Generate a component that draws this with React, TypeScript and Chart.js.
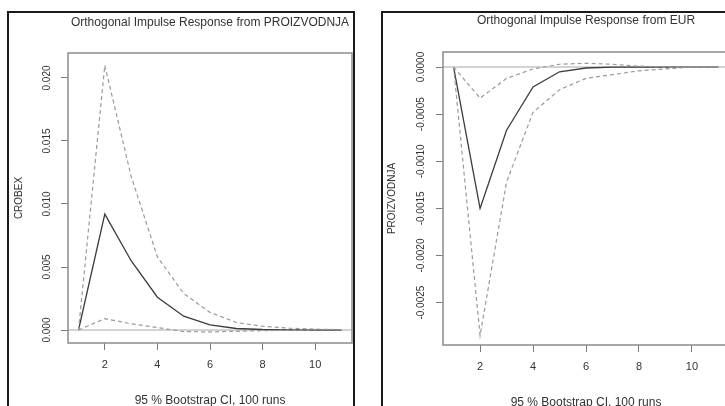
import React, { useEffect, useRef } from "react";
import { Chart, registerables } from "chart.js";

Chart.register(...registerables);

// ---------- data ----------
const periods = [1, 2, 3, 4, 5, 6, 7, 8, 9, 10, 11];

const leftIrf = [0, 0.0092, 0.0055, 0.0026, 0.0011, 0.0004, 0.00012, 0.00004, 0.00001, 0.000003, 0.000001];
const leftUpper = [0, 0.021, 0.0122, 0.0058, 0.0029, 0.0014, 0.0006, 0.0003, 0.00015, 0.00007, 0.00003];
const leftLower = [0, 0.0009, 0.0005, 0.0002, -0.00012, -0.00015, -0.0001, -0.00005, -0.00002, 0, 0];

const rightIrf = [0, -0.0015, -0.00067, -0.00021, -0.00005, -0.00001, 0, 0, 0, 0, 0];
const rightUpper = [0, -0.00033, -0.00012, -0.00002, 0.00003, 0.00004, 0.00003, 0.00001, 0, 0, 0];
const rightLower = [0, -0.00285, -0.00122, -0.00048, -0.00024, -0.00012, -0.00008, -0.00004, -0.00002, 0, 0];

const xTicks = [2, 4, 6, 8, 10];
const xTickLabels = ["2", "4", "6", "8", "10"];

const leftYTicks = [0, 0.005, 0.01, 0.015, 0.02];
const leftYTickLabels = ["0.000", "0.005", "0.010", "0.015", "0.020"];

const rightYTicks = [0, -0.0005, -0.001, -0.0015, -0.002, -0.0025];
const rightYTickLabels = ["0.0000", "-0.0005", "-0.0010", "-0.0015", "-0.0020", "-0.0025"];

const leftTitle = "Orthogonal Impulse Response from PROIZVODNJA";
const rightTitle = "Orthogonal Impulse Response from EUR";
const leftYLabel = "CROBEX";
const rightYLabel = "PROIZVODNJA";
const xLabel = "95 % Bootstrap CI, 100 runs";

const FONT = "'Liberation Sans', Arial, Helvetica, sans-serif";
const TEXT = "#333333";

type PanelCfg = {
  title: string;
  yLabel: string;
  irf: number[];
  upper: number[];
  lower: number[];
  yMin: number;
  yMax: number;
  yTicks: number[];
  yTickLabels: string[];
  width: number;
  height: number;
  padRight: number;
  yWidth: number;
  xHeight: number;
  titlePadTop: number;
  titlePadBottom: number;
  xTitlePadBottom: number;
  yTitlePadTop: number;
  yTickPad: number;
};

const boxPlugin = {
  id: "rbox",
  beforeDatasetsDraw(chart: any) {
    const { ctx, chartArea } = chart;
    const y0 = chart.scales.y.getPixelForValue(0);
    ctx.save();
    ctx.strokeStyle = "#c4c4c4";
    ctx.lineWidth = 1.5;
    ctx.beginPath();
    ctx.moveTo(chartArea.left, y0);
    ctx.lineTo(chartArea.right, y0);
    ctx.stroke();
    ctx.restore();
  },
  afterDatasetsDraw(chart: any) {
    const { ctx, chartArea } = chart;
    ctx.save();
    ctx.strokeStyle = "#8c8c8c";
    ctx.lineWidth = 1.5;
    ctx.strokeRect(chartArea.left, chartArea.top, chartArea.right - chartArea.left, chartArea.bottom - chartArea.top);
    ctx.restore();
  },
};

function labelFor(values: number[], labels: string[], v: number) {
  const i = values.findIndex((t) => Math.abs(t - v) < 1e-12);
  return i >= 0 ? labels[i] : "";
}

function Panel({ cfg, left }: { cfg: PanelCfg; left: number }) {
  const ref = useRef<HTMLCanvasElement | null>(null);
  useEffect(() => {
    if (!ref.current) return;
    const pts = (arr: number[]) => periods.map((p, i) => ({ x: p, y: arr[i] }));
    const dashed = { borderColor: "#9a9a9a", borderWidth: 1.2, borderDash: [4, 3], pointRadius: 0, tension: 0, fill: false };
    const chart = new Chart(ref.current, {
      type: "line",
      data: {
        datasets: [
          { data: pts(cfg.upper), ...dashed },
          { data: pts(cfg.lower), ...dashed },
          { data: pts(cfg.irf), borderColor: "#3c3c3c", borderWidth: 1.3, pointRadius: 0, tension: 0, fill: false },
        ],
      } as any,
      options: {
        animation: false,
        responsive: false,
        devicePixelRatio: 1,
        events: [],
        layout: { padding: { left: 0, top: 0, right: cfg.padRight, bottom: 0 } },
        plugins: {
          legend: { display: false },
          tooltip: { enabled: false },
          title: {
            display: true,
            text: cfg.title,
            fullSize: false,
            color: TEXT,
            font: { family: FONT, size: 12, weight: "normal" },
            padding: { top: cfg.titlePadTop, bottom: cfg.titlePadBottom },
          },
        },
        scales: {
          x: {
            type: "linear",
            min: 0.6,
            max: 11.4,
            afterBuildTicks: (s: any) => {
              s.ticks = xTicks.map((v) => ({ value: v }));
            },
            afterFit: (s: any) => {
              s.height = cfg.xHeight;
            },
            border: { display: false },
            grid: { display: true, drawOnChartArea: false, drawTicks: true, tickLength: 7, color: "#7a7a7a", lineWidth: 1 },
            ticks: {
              color: TEXT,
              font: { family: FONT, size: 11 },
              padding: 8,
              maxRotation: 0,
              minRotation: 0,
              callback: (v: any) => labelFor(xTicks, xTickLabels, Number(v)),
            },
            title: {
              display: true,
              text: xLabel,
              color: TEXT,
              font: { family: FONT, size: 12 },
              padding: { top: 0, bottom: cfg.xTitlePadBottom },
            },
          },
          y: {
            type: "linear",
            min: cfg.yMin,
            max: cfg.yMax,
            afterBuildTicks: (s: any) => {
              s.ticks = cfg.yTicks.map((v) => ({ value: v }));
            },
            afterFit: (s: any) => {
              s.width = cfg.yWidth;
            },
            border: { display: false },
            grid: { display: true, drawOnChartArea: false, drawTicks: true, tickLength: 7, color: "#7a7a7a", lineWidth: 1 },
            ticks: {
              color: TEXT,
              font: { family: FONT, size: 10 },
              padding: cfg.yTickPad,
              minRotation: 90,
              maxRotation: 90,
              crossAlign: "center",
              callback: (v: any) => labelFor(cfg.yTicks, cfg.yTickLabels, Number(v)),
            },
            title: {
              display: true,
              text: cfg.yLabel,
              color: TEXT,
              font: { family: FONT, size: 10 },
              padding: { top: cfg.yTitlePadTop, bottom: 0 },
            },
          },
        },
      } as any,
      plugins: [boxPlugin],
    });
    return () => chart.destroy();
  }, [cfg]);
  return (
    <canvas
      ref={ref}
      width={cfg.width}
      height={cfg.height}
      style={{ position: "absolute", left, top: 0, width: cfg.width, height: cfg.height }}
    />
  );
}

const leftCfg: PanelCfg = {
  title: leftTitle,
  yLabel: leftYLabel,
  irf: leftIrf,
  upper: leftUpper,
  lower: leftLower,
  yMin: -0.00103,
  yMax: 0.02198,
  yTicks: leftYTicks,
  yTickLabels: leftYTickLabels,
  width: 362,
  height: 420,
  padRight: 10,
  yWidth: 68,
  xHeight: 77,
  titlePadTop: 15.3,
  titlePadBottom: 23.3,
  xTitlePadBottom: 11.8,
  yTitlePadTop: 13,
  yTickPad: 1.5,
};

const rightCfg: PanelCfg = {
  title: rightTitle,
  yLabel: rightYLabel,
  irf: rightIrf,
  upper: rightUpper,
  lower: rightLower,
  yMin: -0.00295,
  yMax: 0.00016,
  yTicks: rightYTicks,
  yTickLabels: rightYTickLabels,
  width: 400,
  height: 420,
  padRight: 33,
  yWidth: 81,
  xHeight: 75,
  titlePadTop: 13.8,
  titlePadBottom: 23.8,
  xTitlePadBottom: 9.8,
  yTitlePadTop: 24,
  yTickPad: -2,
};

export default function App() {
  return (
    <div
      style={{
        position: "fixed",
        left: 0,
        top: 0,
        width: 725,
        height: 406,
        overflow: "hidden",
        background: "#ffffff",
      }}
    >
      <Panel cfg={leftCfg} left={0} />
      <Panel cfg={rightCfg} left={362} />
      <div
        style={{
          position: "absolute",
          left: 7,
          top: 11,
          width: 348,
          height: 430,
          border: "2px solid #1a1a1a",
          boxSizing: "border-box",
          pointerEvents: "none",
        }}
      />
      <div
        style={{
          position: "absolute",
          left: 381,
          top: 11,
          width: 420,
          height: 430,
          border: "2px solid #1a1a1a",
          boxSizing: "border-box",
          pointerEvents: "none",
        }}
      />
    </div>
  );
}
